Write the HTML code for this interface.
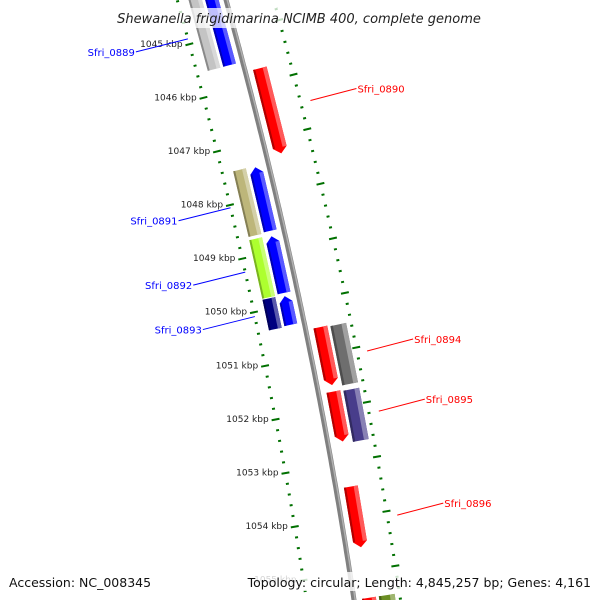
<!DOCTYPE html>
<html><head><meta charset="utf-8"><style>
html,body{margin:0;padding:0;background:#fff;overflow:hidden;width:600px;height:600px;}
svg{display:block;overflow:hidden;font-family:"DejaVu Sans","Liberation Sans",sans-serif;}
</style></head><body>
<svg id="chart" width="600" height="600" viewBox="0 0 600 600" xmlns="http://www.w3.org/2000/svg">
<g id="ticks"></g>
<g id="backbone"></g>
<g id="features"></g>
<g id="labels"></g>
<rect x="105" y="8" width="390" height="20" fill="#fff" opacity="0.75"/>
<text x="299" y="23" text-anchor="middle" font-size="13" font-style="italic" fill="#222">Shewanella frigidimarina NCIMB 400, complete genome</text>
<rect x="0" y="572" width="600" height="19" fill="#fff" opacity="0.8"/>
<text x="9" y="587" font-size="12.5" fill="#111">Accession: NC_008345</text>
<text x="591" y="587" text-anchor="end" font-size="12.5" fill="#111">Topology: circular; Length: 4,845,257 bp; Genes: 4,161</text>
</svg>
<script>
// data
const featNames  = ["Sfri_0889a","Sfri_0889","Sfri_0890","Sfri_0891a","Sfri_0891","Sfri_0892a","Sfri_0892","Sfri_0893a","Sfri_0893","Sfri_0894","Sfri_0894a","Sfri_0895","Sfri_0895a","Sfri_0896","Sfri_0897","Sfri_0897a"];
const featStart  = [1044.0,1044.0,1045.74,1047.42,1047.44,1048.70,1048.72,1049.81,1049.83,1050.51,1050.53,1051.70,1051.72,1053.45,1055.5,1055.5];
const featEnd    = [1045.55,1045.55,1047.31,1048.64,1048.62,1049.79,1049.77,1050.38,1050.36,1051.58,1051.62,1052.62,1052.66,1054.57,1056.3,1056.3];
const featTrack  = ["LO","LI","RI","LO","LI","LO","LI","LO","LI","RI","RO","RI","RO","RI","RI","RO"];
const featColor  = ["#c4c4c4","#0000ff","#ff0000","#bdb67a","#0000ff","#adff2f","#0000ff","#000080","#0000ff","#ff0000","#6e6e6e","#ff0000","#483d8b","#ff0000","#ff0000","#6b8e23"];
const featStrand = [0,-1,1,0,-1,0,-1,0,-1,1,0,1,0,1,1,0];
const labelNames = ["Sfri_0889","Sfri_0890","Sfri_0891","Sfri_0892","Sfri_0893","Sfri_0894","Sfri_0895","Sfri_0896"];
const labelKbp   = [1044.9,1046.52,1048.05,1049.25,1050.08,1051.1,1052.2,1054.1];
const labelSide  = [-1,1,-1,-1,-1,1,1,1];
const tickStart = 1044, tickEnd = 1056.2, tickStep = 0.2;
const tickLabelKbp = [1045,1046,1047,1048,1049,1050,1051,1052,1053,1054,1055];

// geometry
const NS="http://www.w3.org/2000/svg";
const A=226,B=0.2758,C=-1.04e-4;
const Y0=32, PX=54.1;
function yOf(k){return Y0+(k-1045)*PX;}
function pt(k,r){const y=yOf(k);const s=B+2*C*y;const n=Math.sqrt(1+s*s);return [A+B*y+C*y*y+r/n, y-r*s/n];}
const trackR={LO:[-36,-23],LI:[-20,-7],RI:[8,22],RO:[25,41]};
function el(tag,attrs,parent){const e=document.createElementNS(NS,tag);for(const k in attrs)e.setAttribute(k,attrs[k]);parent.appendChild(e);return e;}
function P(a){return a.map(p=>p[0].toFixed(1)+","+p[1].toFixed(1)).join(" ");}

// backbone
const bb=document.getElementById("backbone");
const bpts=[];for(let k=1044;k<=1056.2;k+=0.1)bpts.push(pt(k,0));
let l1=el("polyline",{points:P(bpts),fill:"none",stroke:"#808080","stroke-width":5},bb);


const bpts2=[];for(let k=1044;k<=1056.2;k+=0.1)bpts2.push(pt(k,1.2));
let l2=el("polyline",{points:P(bpts2),fill:"none",stroke:"#b0b0b0","stroke-width":1.5},bb);



// ticks
const tg=document.getElementById("ticks");
const nT=Math.round((tickEnd-tickStart)/tickStep);
for(let i=0;i<=nT;i++){
  const k=tickStart+i*tickStep;
  const major=Math.abs(k-Math.round(k))<1e-6;
  [-47,46].forEach(r=>{
    const len=major?8:3;
    const a=pt(k,r-len/2),b=pt(k,r+len/2);
    const t=el("line",{x1:a[0],y1:a[1],x2:b[0],y2:b[1],stroke:"#007000","stroke-width":2},tg);
    
    
  });
}
tickLabelKbp.forEach(k=>{
  const p=pt(k,-54);
  const t=el("text",{x:p[0],y:p[1]+1,"text-anchor":"end","font-size":"9",fill:"#222"},tg);
  t.textContent=k+" kbp";
  
  
});

// features
const fg=document.getElementById("features");
function shade(hex,f){const n=parseInt(hex.slice(1),16);let r=n>>16,g=(n>>8)&255,b=n&255;
  const m=v=>Math.max(0,Math.min(255,Math.round(f>0?v+(255-v)*f:v*(1+f))));return "rgb("+m(r)+","+m(g)+","+m(b)+")";}
featNames.forEach((nm,i)=>{
  const [r0,r1]=trackR[featTrack[i]];const s=featStart[i],e=featEnd[i],st=featStrand[i];
  const h=6/PX, rm=(r0+r1)/2;
  let poly;
  if(st===1) poly=[pt(s,r0),pt(s,r1),pt(e-h,r1),pt(e,rm),pt(e-h,r0)];
  else if(st===-1) poly=[pt(s+h,r0),pt(s,rm),pt(s+h,r1),pt(e,r1),pt(e,r0)];
  else poly=[pt(s,r0),pt(s,r1),pt(e,r1),pt(e,r0)];
  const g=el("g",{},fg);
  
  
  el("polygon",{points:P(poly),fill:featColor[i]},g);
  const w=r1-r0;
  const hs=st===1?[pt(s,r1-w*0.3),pt(s,r1),pt(e-h,r1),pt(e-h,r1-w*0.3)]:st===-1?[pt(s+h,r1-w*0.3),pt(s+h,r1),pt(e,r1),pt(e,r1-w*0.3)]:[pt(s,r1-w*0.3),pt(s,r1),pt(e,r1),pt(e,r1-w*0.3)];
  el("polygon",{points:P(hs),fill:shade(featColor[i],0.35)},g);
  const ds=[pt(s+(st===-1?h:0),r0),pt(s+(st===-1?h:0),r0+w*0.15),pt(e-(st===1?h:0),r0+w*0.15),pt(e-(st===1?h:0),r0)];
  el("polygon",{points:P(ds),fill:shade(featColor[i],-0.3)},g);
});

// labels
const lg=document.getElementById("labels");
labelNames.forEach((nm,i)=>{
  const side=labelSide[i];const col=side<0?"#0000ff":"#ff0000";
  const a=pt(labelKbp[i],side<0?-47:56);
  const bx=a[0]+side*(side<0?52:46), by=a[1]+(side<0?13:-12);
  const ln=el("line",{x1:a[0],y1:a[1],x2:bx,y2:by,stroke:col,"stroke-width":1},lg);
  
  
  const t=el("text",{x:bx+side*1,y:by+4,"text-anchor":side<0?"end":"start","font-size":"10",fill:col},lg);
  t.textContent=nm;
  
  
});
</script>
</body></html>
